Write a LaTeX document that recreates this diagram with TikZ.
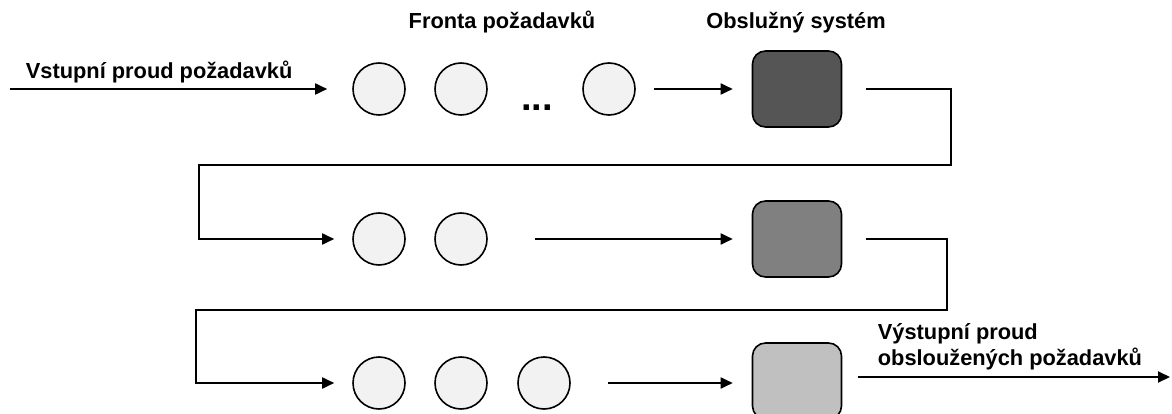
\documentclass[tikz,border=0pt]{standalone}
\usepackage{fontspec}
\setmainfont{Liberation Sans}
\usetikzlibrary{arrows.meta}
\definecolor{reqfill}{HTML}{F2F2F2}
\definecolor{srvdark}{HTML}{555555}
\definecolor{srvmid}{HTML}{808080}
\definecolor{srvlight}{HTML}{C0C0C0}

\begin{document}
\begin{tikzpicture}[x=1pt,y=-1pt,line width=1.8pt,
  req/.style={circle, draw, line width=1.6pt, fill=reqfill, minimum size=52pt, inner sep=0pt},
  srv/.style={draw, line width=1.6pt, rounded corners=13pt, minimum width=89pt, minimum height=76pt, inner sep=0pt},
  lbl/.style={font=\fontsize{21.8}{26}\selectfont\bfseries, inner sep=0pt},
  >={Triangle[length=12pt,width=11pt]}]
\useasboundingbox (0,0) rectangle (1172,414);
\node[lbl, anchor=base] (fronta) at (502,29) {Fronta požadavků};
\node[lbl, anchor=base] (obsl) at (796,29) {Obslužný systém};
\node[req] (q11) at (379,89) {};
\node[req] (q12) at (461,89) {};
\node[req] (q13) at (609,89) {};
\node[lbl, font=\fontsize{38}{40}\selectfont\bfseries, anchor=base] (dots) at (537,111) {...};
\node[srv, fill=srvdark] (s1) at (797,89) {};
\node[req] (q21) at (379,239) {};
\node[req] (q22) at (461,239) {};
\node[srv, fill=srvmid] (s2) at (797,239) {};
\node[req] (q31) at (379,383) {};
\node[req] (q32) at (461,383) {};
\node[req] (q33) at (544,383) {};
\node[srv, fill=srvlight] (s3) at (797,381) {};
\coordinate (in) at (10,89);
\coordinate (out) at (1170,377);
\coordinate (r1) at (951,165);
\coordinate (l1) at (199,239);
\coordinate (r2) at (947,310);
\coordinate (l2) at (196,383);
\node[lbl, anchor=base west] (inlbl) at (25,79) {Vstupní proud požadavků};
\node[lbl, anchor=north west, align=left] (outlbl) at (877,323) {Výstupní proud\\obsloužených požadavků};
\draw[->, shorten >=25pt] (in) -- (q11);
\draw[->, shorten <=18pt, shorten >=19pt] (q13) -- (s1);
\draw[->, shorten <=24pt, shorten >=18pt] (s1.east) -| (r1) -| (l1) -- (q21);
\draw[->, shorten <=47pt, shorten >=19pt] (q22) -- (s2);
\draw[->, shorten <=24pt, shorten >=18pt] (s2.east) -| (r2) -| (l2) -- (q31);
\draw[->, shorten <=37pt, shorten >=19pt] (q33) -- (q33 -| s3.west);
\draw[->, shorten <=16pt] (s3.east |- out) -- (out);
\end{tikzpicture}
\end{document}
